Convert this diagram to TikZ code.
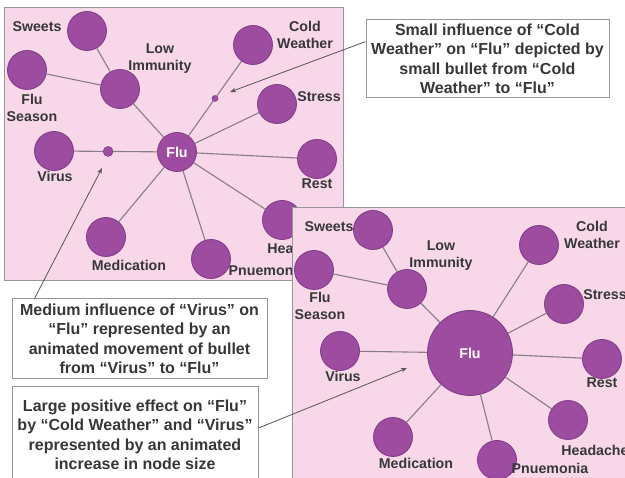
\documentclass[tikz,border=0pt]{standalone}
\usepackage{fontspec}
\setmainfont{Liberation Sans}
\usetikzlibrary{arrows.meta,calc}
\definecolor{panelpink}{RGB}{247,215,232}
\definecolor{nodepurple}{RGB}{157,76,160}
\definecolor{nodeborder}{RGB}{128,58,133}
\definecolor{edgegray}{RGB}{135,125,135}
\definecolor{txtgray}{RGB}{55,55,55}
\definecolor{boxgray}{RGB}{150,150,150}
\begin{document}
\begin{tikzpicture}[x=1pt,y=-1pt,
  panel/.style={fill=panelpink,draw=boxgray,line width=1pt},
  cnode/.style={circle,fill=nodepurple,draw=nodeborder,line width=0.8pt,minimum size=39pt,inner sep=0pt},
  bignode/.style={cnode,minimum size=85pt},
  bulletnode/.style={circle,fill=nodepurple,draw=nodeborder,line width=0.5pt,inner sep=0pt},
  lbl/.style={text=txtgray,font=\bfseries\fontsize{14.2}{17}\selectfont,align=center,inner sep=0pt},
  flulbl/.style={text=white,font=\bfseries\fontsize{14.2}{17}\selectfont},
  edgeline/.style={draw=edgegray,line width=1.1pt},
  callout/.style={rectangle,fill=white,draw=boxgray,line width=1pt,text=txtgray,font=\bfseries\fontsize{16}{19.5}\selectfont,align=center,inner sep=0pt},
  pointer/.style={draw=txtgray!85,line width=0.8pt,-{Stealth[length=6pt,width=4.5pt]}}
]
\useasboundingbox (0,0) rectangle (625,478);
\clip (0,0) rectangle (625,478);
\fill[white] (0,0) rectangle (625,478);

% ---------- Panel 1 ----------
\draw[panel] (4,8) rectangle (343,281);
\node[cnode] (p1sweets) at (87,31) {};
\node[cnode] (p1season) at (27,70) {};
\node[cnode] (p1immun) at (120,89) {};
\node[cnode] (p1virus) at (54,151) {};
\node[cnode,flulbl] (p1flu) at (177,152) {Flu};
\node[bulletnode,minimum size=10pt] (p1vb) at ($(p1virus)!0.44!(p1flu)$) {};
\node[cnode] (p1cold) at (253,45) {};
\node[bulletnode,minimum size=6pt] (p1cb) at ($(p1cold)!0.5!(p1flu)$) {};
\node[cnode] (p1stress) at (277,104) {};
\node[cnode] (p1rest) at (317,159) {};
\node[cnode] (p1head) at (282,220) {};
\node[cnode] (p1med) at (106,237) {};
\node[cnode] (p1pneu) at (211,259) {};
\draw[edgeline] (p1sweets) -- (p1immun);
\draw[edgeline] (p1season) -- (p1immun);
\draw[edgeline] (p1immun) -- (p1flu);
\draw[edgeline] (p1virus) -- (p1vb) -- (p1flu);
\draw[edgeline] (p1cold) -- (p1cb) -- (p1flu);
\draw[edgeline] (p1stress) -- (p1flu);
\draw[edgeline] (p1rest) -- (p1flu);
\draw[edgeline] (p1head) -- (p1flu);
\draw[edgeline] (p1med) -- (p1flu);
\draw[edgeline] (p1pneu) -- (p1flu);
\node[lbl] (p1lsweets) at (37,27) {Sweets};
\node[lbl] (p1lseason) at (32,108) {Flu\\Season};
\node[lbl] (p1limmun) at (160,59) {Low\\Immunity};
\node[lbl] (p1lvirus) at (55,176) {Virus};
\node[lbl] (p1lcold) at (305,35) {Cold\\Weather};
\node[lbl] (p1lstress) at (319,97) {Stress};
\node[lbl] (p1lrest) at (317,184) {Rest};
\node[lbl] (p1lhead) at (301,248) {Headache};
\node[lbl] (p1lmed) at (129,265) {Medication};
\node[lbl] (p1lpneu) at (267,270) {Pnuemonia};

% ---------- Small influence callout ----------
\node[callout,minimum width=243pt,minimum height=78pt] (smallbox) at (487.5,59)
  {Small influence of “Cold\\Weather” on “Flu” depicted by\\small bullet from “Cold\\Weather” to “Flu”};
\coordinate (smalltip) at (230,92);
\draw[pointer] ($(smallbox.north west)!0.28!(smallbox.south west)$) -- (smalltip);

% ---------- Panel 2 ----------
\draw[panel] (292,208) rectangle (630,485);
\node[cnode] (p2sweets) at (373,230) {};
\node[cnode] (p2season) at (314,270) {};
\node[cnode] (p2immun) at (407,289) {};
\node[cnode] (p2virus) at (340,351) {};
\node[bignode,flulbl] (p2flu) at (470,353) {Flu};
\node[cnode] (p2cold) at (539,245) {};
\node[cnode] (p2stress) at (564,304) {};
\node[cnode] (p2rest) at (602,359) {};
\node[cnode] (p2head) at (568,420) {};
\node[cnode] (p2med) at (393,437) {};
\node[cnode] (p2pneu) at (497,460) {};
\draw[edgeline] (p2sweets) -- (p2immun);
\draw[edgeline] (p2season) -- (p2immun);
\draw[edgeline] (p2immun) -- (p2flu);
\draw[edgeline] (p2virus) -- (p2flu);
\draw[edgeline] (p2cold) -- (p2flu);
\draw[edgeline] (p2stress) -- (p2flu);
\draw[edgeline] (p2rest) -- (p2flu);
\draw[edgeline] (p2head) -- (p2flu);
\draw[edgeline] (p2med) -- (p2flu);
\draw[edgeline] (p2pneu) -- (p2flu);
\node[lbl] (p2lsweets) at (329,227) {Sweets};
\node[lbl] (p2lseason) at (320,306) {Flu\\Season};
\node[lbl] (p2limmun) at (441,256) {Low\\Immunity};
\node[lbl] (p2lvirus) at (343,376) {Virus};
\node[lbl] (p2lcold) at (592,235) {Cold\\Weather};
\node[lbl] (p2lstress) at (605,295) {Stress};
\node[lbl] (p2lrest) at (602,383) {Rest};
\node[lbl] (p2lhead) at (595,450) {Headache};
\node[lbl] (p2lmed) at (416,463) {Medication};
\node[lbl] (p2lpneu) at (550,468) {Pnuemonia};

% ---------- Medium / Large callouts ----------
\node[callout,minimum width=255pt,minimum height=80pt] (medbox) at (139.5,339)
  {Medium influence of “Virus” on\\“Flu” represented by an\\animated movement of bullet\\from “Virus” to “Flu”};
\coordinate (medtip) at (102,168);
\draw[pointer] ($(medbox.north west)+(23,0)$) -- (medtip);

\node[callout,minimum width=246pt,minimum height=96pt] (largebox) at (135,435)
  {Large positive effect on “Flu”\\by “Cold Weather” and “Virus”\\represented by an animated\\increase in node size};
\coordinate (largetip) at (407,368);
\draw[pointer] ($(largebox.east)+(0,-7)$) -- (largetip);
\end{tikzpicture}
\end{document}
